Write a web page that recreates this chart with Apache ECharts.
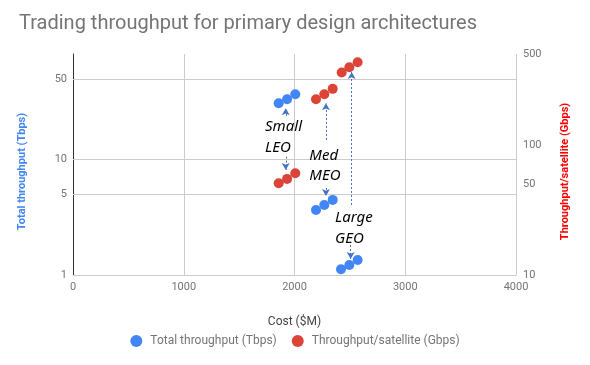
<!DOCTYPE html>
<html><head><meta charset="utf-8">
<script src="https://cdn.jsdelivr.net/npm/echarts@6/dist/echarts.min.js"></script>
<style>html,body{margin:0;padding:0;background:#fff}#c{width:590px;height:365px}</style>
</head><body><div id="c"></div>
<script>
// ---- data ----
const titleText = 'Trading throughput for primary design architectures';
const seriesNames = ['Total throughput (Tbps)', 'Throughput/satellite (Gbps)'];
const totalCost = [1857, 1933, 2007, 2194, 2269, 2345, 2420, 2495, 2570];
const totalTbps = [30.7, 33.3, 36.8, 3.66, 4.04, 4.47, 1.12, 1.22, 1.35];
const perSatCost = [1857, 1933, 2007, 2194, 2269, 2345, 2426, 2495, 2570];
const perSatGbps = [50.8, 54.8, 60.6, 224.7, 245.5, 269.7, 359.8, 396, 432.7];
const leftTicks = [1, 5, 10, 50];
const rightTicks = [10, 50, 100, 500];
const leftGrid = [5, 10, 50];
// annotations (data coordinates on the left axis)
const noteText = ['Small', 'LEO', 'Med', 'MEO', 'Large', 'GEO'];
const noteX = [1734, 1734, 2134, 2134, 2366, 2366];
const noteY = [19.2, 12.7, 10.85, 7.21, 3.12, 2.07];
const arrowX = [1921, 1921, 2284, 2284, 2516, 2507];
const arrowFrom = [23.9, 10.6, 14.8, 5.67, 4.04, 1.82];
const arrowTo = [27.8, 8.13, 30.7, 4.84, 57.4, 1.376];

const FONT = 'Roboto';
const chart = echarts.init(document.getElementById('c'), null, {renderer: 'canvas'});
chart.setOption({
  animation: false,
  backgroundColor: '#fff',
  textStyle: {fontFamily: FONT},
  title: {
    text: titleText, left: 19, top: 14, padding: 0,
    textStyle: {fontFamily: FONT, fontSize: 20, fontWeight: 'normal', color: '#757575'}
  },
  legend: {
    data: seriesNames.map(n => ({name: n, icon: 'circle'})),
    left: 'center', top: 335, padding: 0, itemGap: 15, itemWidth: 12, itemHeight: 12,
    textStyle: {fontFamily: FONT, fontSize: 12, color: '#757575', padding: [0, 0, 0, 3]}
  },
  grid: {left: 73, right: 74, top: 54, bottom: 90, containLabel: false},
  xAxis: {
    type: 'value', min: 0, max: 4000, interval: 1000,
    name: 'Cost ($M)', nameLocation: 'middle', nameGap: 41,
    nameTextStyle: {fontFamily: FONT, fontSize: 12, color: '#444'},
    axisLine: {show: true, lineStyle: {color: '#cccccc'}},
    axisTick: {show: false},
    axisLabel: {fontFamily: FONT, fontSize: 11, color: '#757575', margin: 7, formatter: v => String(v)},
    splitLine: {show: true, lineStyle: {color: '#cccccc'}}
  },
  yAxis: [{
    type: 'log', logBase: 10, min: 1, max: 82, position: 'left',
    name: seriesNames[0], nameLocation: 'middle', nameGap: 45, nameRotate: 90,
    nameTextStyle: {fontFamily: FONT, fontSize: 11, fontWeight: 'bold', color: '#4285F4', padding: [0, 14, 0, 0]},
    axisLine: {show: true, lineStyle: {color: '#333333'}},
    axisTick: {show: false},
    axisLabel: {customValues: leftTicks, fontFamily: FONT, fontSize: 11, color: '#757575', margin: 6},
    splitLine: {show: false}
  }, {
    type: 'log', logBase: 10, min: 10, max: 500, position: 'right',
    name: seriesNames[1], nameLocation: 'middle', nameGap: 44, nameRotate: 90,
    nameTextStyle: {fontFamily: FONT, fontSize: 11, fontWeight: 'bold', color: '#ff0000', padding: [0, 14, 0, 0]},
    axisLine: {show: false},
    axisTick: {show: false},
    axisLabel: {customValues: rightTicks, fontFamily: FONT, fontSize: 11, color: '#757575', margin: 7},
    splitLine: {show: false}
  }],
  series: [{
    name: 'grid', type: 'scatter', yAxisIndex: 0, data: [], z: 1, silent: true,
    markLine: {
      silent: true, symbol: 'none', animation: false,
      label: {show: false},
      lineStyle: {color: '#cccccc', type: 'solid', width: 1},
      data: leftGrid.map(v => ({yAxis: v}))
    }
  }, {
    name: seriesNames[0], type: 'scatter', yAxisIndex: 0, z: 3,
    symbolSize: 10, itemStyle: {color: '#4285F4', opacity: 1},
    data: totalCost.map((c, i) => [c, totalTbps[i]])
  }, {
    name: seriesNames[1], type: 'scatter', yAxisIndex: 1, z: 3,
    symbolSize: 10, itemStyle: {color: '#DB4437', opacity: 1},
    data: perSatCost.map((c, i) => [c, perSatGbps[i]])
  }, {
    name: 'notes', type: 'scatter', yAxisIndex: 0, data: [], z: 4, silent: true,
    markLine: {
      silent: true, animation: false, symbol: ['none', 'arrow'], symbolSize: [6, 7],
      label: {show: false},
      lineStyle: {color: '#4472C4', type: [2, 2], width: 1, opacity: 1},
      data: arrowX.map((x, i) => [{coord: [x, arrowFrom[i]]}, {coord: [x, arrowTo[i]]}])
    },
    markPoint: {
      silent: true, animation: false, symbol: 'circle', symbolSize: 0,
      label: {show: true, position: 'right', distance: 0, formatter: '{b}',
        fontFamily: 'Noto Sans', fontStyle: 'italic', fontSize: 15, color: '#000'},
      data: noteText.map((t, i) => ({name: t, coord: [noteX[i], noteY[i]]}))
    }
  }]
});
</script></body></html>
